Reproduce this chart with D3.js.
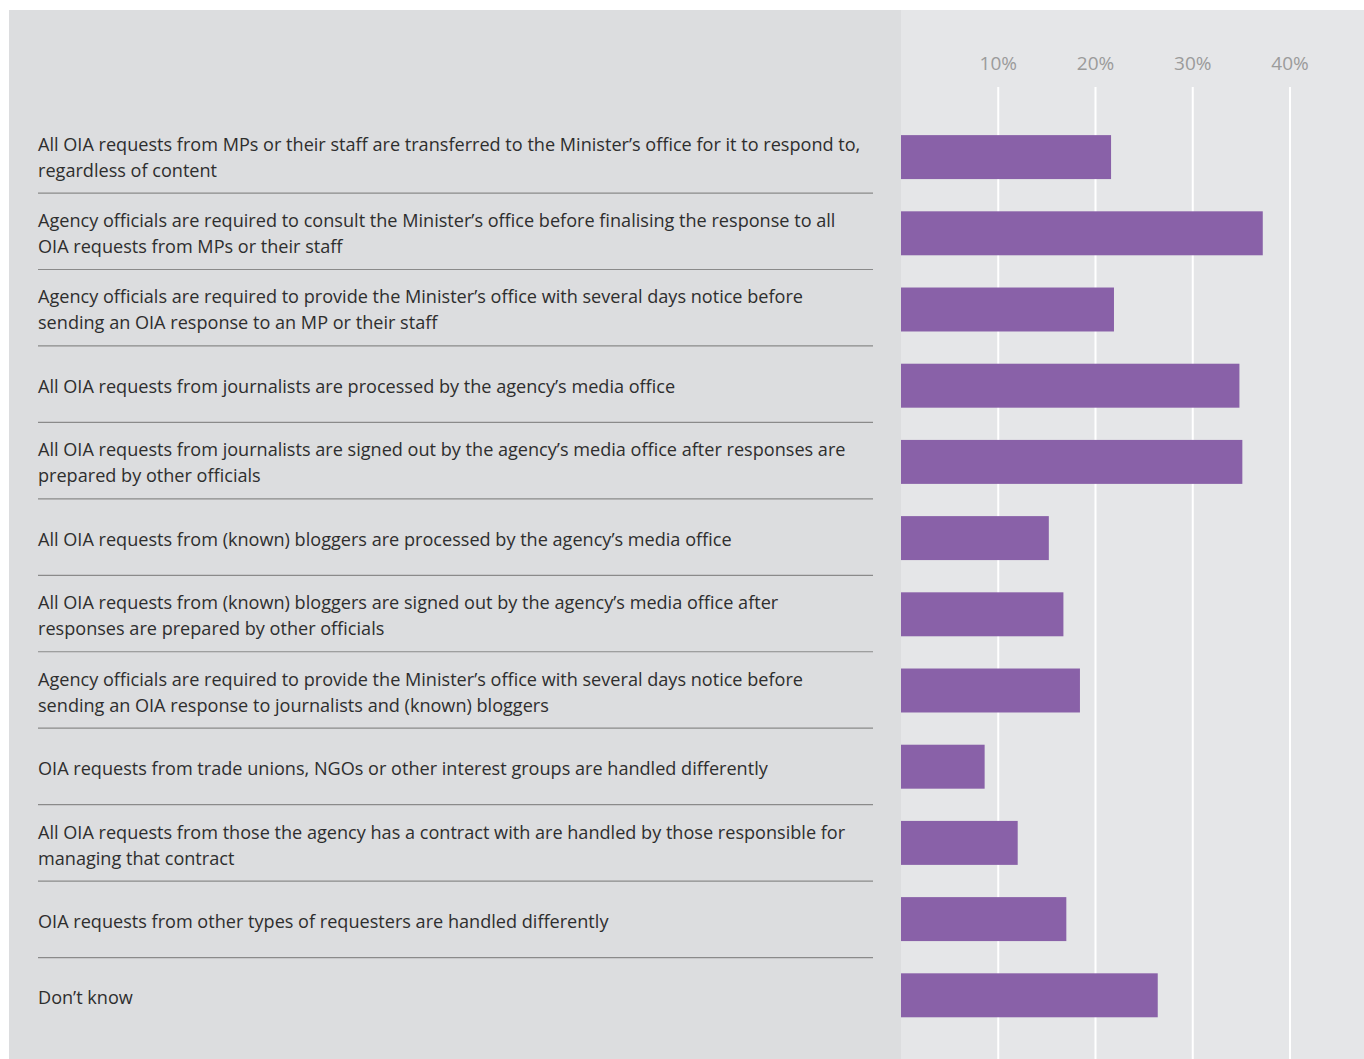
<!DOCTYPE html>
<html>
<head>
<meta charset="utf-8">
<script src="https://cdn.jsdelivr.net/npm/d3@7"></script>
<style>
  body { margin: 0; background: #fff; }
  svg { display: block; }
</style>
</head>
<body>
<div id="chart"></div>
<script>
// Row labels, already broken into lines as in the report
const labels = [
    ["All OIA requests from MPs or their staff are transferred to the Minister\u2019s office for it to respond to,", "regardless of content"],
    ["Agency officials are required to consult the Minister\u2019s office before finalising the response to all", "OIA requests from MPs or their staff"],
    ["Agency officials are required to provide the Minister\u2019s office with several days notice before", "sending an OIA response to an MP or their staff"],
    ["All OIA requests from journalists are processed by the agency\u2019s media office"],
    ["All OIA requests from journalists are signed out by the agency\u2019s media office after responses are", "prepared by other officials"],
    ["All OIA requests from (known) bloggers are processed by the agency\u2019s media office"],
    ["All OIA requests from (known) bloggers are signed out by the agency\u2019s media office after", "responses are prepared by other officials"],
    ["Agency officials are required to provide the Minister\u2019s office with several days notice before", "sending an OIA response to journalists and (known) bloggers"],
    ["OIA requests from trade unions, NGOs or other interest groups are handled differently"],
    ["All OIA requests from those the agency has a contract with are handled by those responsible for", "managing that contract"],
    ["OIA requests from other types of requesters are handled differently"],
    ["Don\u2019t know"]
];

// Share of agencies (%)
const values = [21.6, 37.2, 21.9, 34.8, 35.1, 15.2, 16.7, 18.4, 8.6, 12.0, 17.0, 26.4];

const ticks = [10, 20, 30, 40];

const width = 1364, height = 1059;

const svg = d3.select("#chart")
    .append("svg")
    .attr("width", width)
    .attr("height", height);

// backgrounds
svg.append("rect")
    .attr("x", 9).attr("y", 10)
    .attr("width", width - 9).attr("height", height - 10)
    .attr("fill", "#dcdddf");

const panelLeft = 901;
svg.append("rect")
    .attr("x", panelLeft).attr("y", 10)
    .attr("width", width - panelLeft).attr("height", height - 10)
    .attr("fill", "#e5e6e8");

// scales
const x = d3.scaleLinear()
    .domain([0, 40])
    .range([panelLeft, 1290]);

const idx = d3.range(labels.length);

// bar rows
const y = d3.scaleBand()
    .domain(idx)
    .range([119, 1033.4])
    .paddingInner(0.423)
    .paddingOuter(0.2115);

// label rows (the text column runs on a slightly taller pitch)
const yl = d3.scaleBand()
    .domain(idx)
    .range([118.3, 1035.7]);

// gridlines
svg.append("g")
    .selectAll("line")
    .data(ticks)
    .join("line")
    .attr("x1", d => x(d)).attr("x2", d => x(d))
    .attr("y1", 87).attr("y2", height)
    .attr("stroke", "#ffffff")
    .attr("stroke-width", 2);

// tick labels on top
svg.append("g")
    .selectAll("text")
    .data(ticks)
    .join("text")
    .attr("x", d => x(d))
    .attr("y", 70)
    .attr("text-anchor", "middle")
    .attr("fill", "#9b9b9b")
    .attr("font-family", "'Open Sans', sans-serif")
    .attr("font-size", "19px")
    .text(d => d + "%");

// bars
svg.append("g")
    .selectAll("rect")
    .data(values)
    .join("rect")
    .attr("x", x(0))
    .attr("y", (d, i) => y(i))
    .attr("width", d => x(d) - x(0))
    .attr("height", y.bandwidth())
    .attr("fill", "#8961a8");

// separators between rows
svg.append("g")
    .selectAll("line")
    .data(idx.slice(0, -1))
    .join("line")
    .attr("x1", 38).attr("x2", 873)
    .attr("y1", i => yl(i) + yl.bandwidth() / 2 + 36.5)
    .attr("y2", i => yl(i) + yl.bandwidth() / 2 + 36.5)
    .attr("stroke", "#8a8a8a")
    .attr("stroke-width", 1.2);

// row labels
const lineH = 26;
const lab = svg.append("g")
    .selectAll("text")
    .data(labels)
    .join("text")
    .attr("x", 38)
    .attr("y", (d, i) => yl(i) + yl.bandwidth() / 2 - (d.length - 1) * lineH / 2)
    .attr("fill", "#2e2e2e")
    .attr("font-family", "'Open Sans', sans-serif")
    .attr("font-size", "18.1px")
    .attr("dominant-baseline", "central");

lab.selectAll("tspan")
    .data(d => d)
    .join("tspan")
    .attr("x", 38)
    .attr("dy", (d, i) => i === 0 ? 0 : lineH)
    .text(d => d);
</script>
</body>
</html>
